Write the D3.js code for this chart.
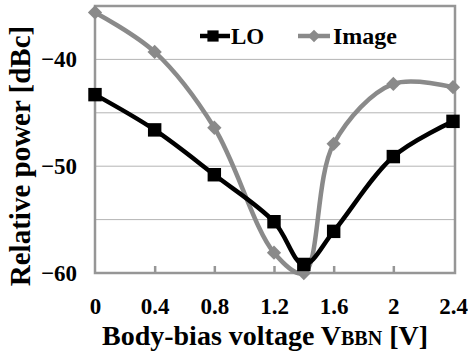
<!DOCTYPE html>
<html>
<head>
<meta charset="utf-8">
<script src="https://cdn.jsdelivr.net/npm/d3@7"></script>
<style>
  html, body { margin: 0; padding: 0; background: #fff; }
  svg text { font-family: "Liberation Serif", "DejaVu Serif", "Times New Roman", serif !important; font-weight: 700; }
</style>
</head>
<body>
<svg id="chart" width="468" height="356"></svg>
<script>
// Body-bias voltage sweep (V)
const voltages = [0, 0.4, 0.8, 1.2, 1.4, 1.6, 2.0, 2.4];
// Relative power of each spur (dBc)
const loPower    = [-43.3, -46.6, -50.8, -55.2, -59.2, -56.1, -49.1, -45.8];
const imagePower = [-35.6, -39.3, -46.4, -58.1, -60.0, -47.9, -42.3, -42.6];
const xTicks = [0, 0.4, 0.8, 1.2, 1.6, 2.0, 2.4];
const yTickLabels = [-40, -50, -60];
const yGrid = [-55, -50, -45, -40];

const svg = d3.select("#chart");
const plotL = 95, plotR = 455, plotT = 6, plotB = 273;

const x = d3.scaleLinear().domain([0, 2.4]).range([plotL, plotR - 2]);
const y = d3.scaleLinear().domain([-60, -35]).range([plotB, plotT]);

// horizontal gridlines
svg.append("g").selectAll("line").data(yGrid).join("line")
  .attr("x1", plotL).attr("x2", plotR)
  .attr("y1", d => y(d)).attr("y2", d => y(d))
  .attr("stroke", "#b4b4b4").attr("stroke-width", 1);

// plot frame
svg.append("rect")
  .attr("x", plotL).attr("y", plotT)
  .attr("width", plotR - plotL).attr("height", plotB - plotT)
  .attr("fill", "none").attr("stroke", "#969696").attr("stroke-width", 2.5);

// x axis: inward ticks and labels
const xAxis = d3.axisBottom(x).tickValues(xTicks).tickSize(-7).tickPadding(25)
  .tickFormat(d => d3.format("~g")(d));
const gx = svg.append("g").attr("transform", `translate(0,${plotB})`).call(xAxis)
  .attr("font-family", null).attr("font-size", 23);
gx.select(".domain").remove();
gx.selectAll(".tick line").attr("stroke", "#969696").attr("stroke-width", 2.5)
  .filter(d => d === 0 || d === 2.4).remove();
gx.selectAll(".tick text").attr("fill", "#000");

// y axis labels
const yAxis = d3.axisLeft(y).tickValues(yTickLabels).tickSize(0).tickPadding(18)
  .tickFormat(d => d3.format("d")(d));
const gy = svg.append("g").attr("transform", `translate(${plotL},0)`).call(yAxis)
  .attr("font-family", null).attr("font-size", 23);
gy.select(".domain").remove();
gy.selectAll(".tick text").attr("fill", "#000");

// smoothed series lines
const line = d3.line().curve(d3.curveCatmullRom.alpha(0.5));
const imgPts = voltages.map((v, i) => [x(v), y(imagePower[i])]);
const loPts = voltages.map((v, i) => [x(v), y(loPower[i])]);

svg.append("path").attr("d", line(imgPts))
  .attr("fill", "none").attr("stroke", "#8a8a8a").attr("stroke-width", 4.5);
svg.append("path").attr("d", line(loPts))
  .attr("fill", "none").attr("stroke", "#000").attr("stroke-width", 4.5);

const diamond = d3.symbol().type(d3.symbolDiamond2).size(130);
const square = d3.symbol().type(d3.symbolSquare2).size(230);
const legendDiamond = d3.symbol().type(d3.symbolDiamond2).size(100);
const legendSquare = d3.symbol().type(d3.symbolSquare2).size(160);

svg.append("g").selectAll("path").data(imgPts).join("path")
  .attr("transform", d => `translate(${d[0]},${d[1]})`)
  .attr("d", diamond).attr("fill", "#8a8a8a");

svg.append("g").selectAll("path").data(loPts).join("path")
  .attr("transform", d => `translate(${d[0]},${d[1]})`)
  .attr("d", square).attr("fill", "#000");

// legend
const legend = svg.append("g");
legend.append("line").attr("x1", 200).attr("x2", 230).attr("y1", 36).attr("y2", 36)
  .attr("stroke", "#000").attr("stroke-width", 4.5);
legend.append("path").attr("transform", "translate(213,36)").attr("d", legendSquare).attr("fill", "#000");
legend.append("text").attr("x", 231).attr("y", 44).attr("font-size", 23).text("LO");

legend.append("line").attr("x1", 298).attr("x2", 330).attr("y1", 36).attr("y2", 36)
  .attr("stroke", "#8a8a8a").attr("stroke-width", 4.5);
legend.append("path").attr("transform", "translate(314,36)").attr("d", legendDiamond).attr("fill", "#8a8a8a");
legend.append("text").attr("x", 333).attr("y", 44).attr("font-size", 24).text("Image");

// axis titles
const xt = svg.append("text").attr("x", 265).attr("y", 345).attr("text-anchor", "middle")
  .attr("font-size", 28);
xt.append("tspan").text("Body-bias voltage V");
xt.append("tspan").attr("font-size", 20).text("BBN");
xt.append("tspan").text(" [V]");

svg.append("text").attr("transform", "translate(30,156) rotate(-90)")
  .attr("text-anchor", "middle").attr("font-size", 29).text("Relative power [dBc]");
</script>
</body>
</html>
